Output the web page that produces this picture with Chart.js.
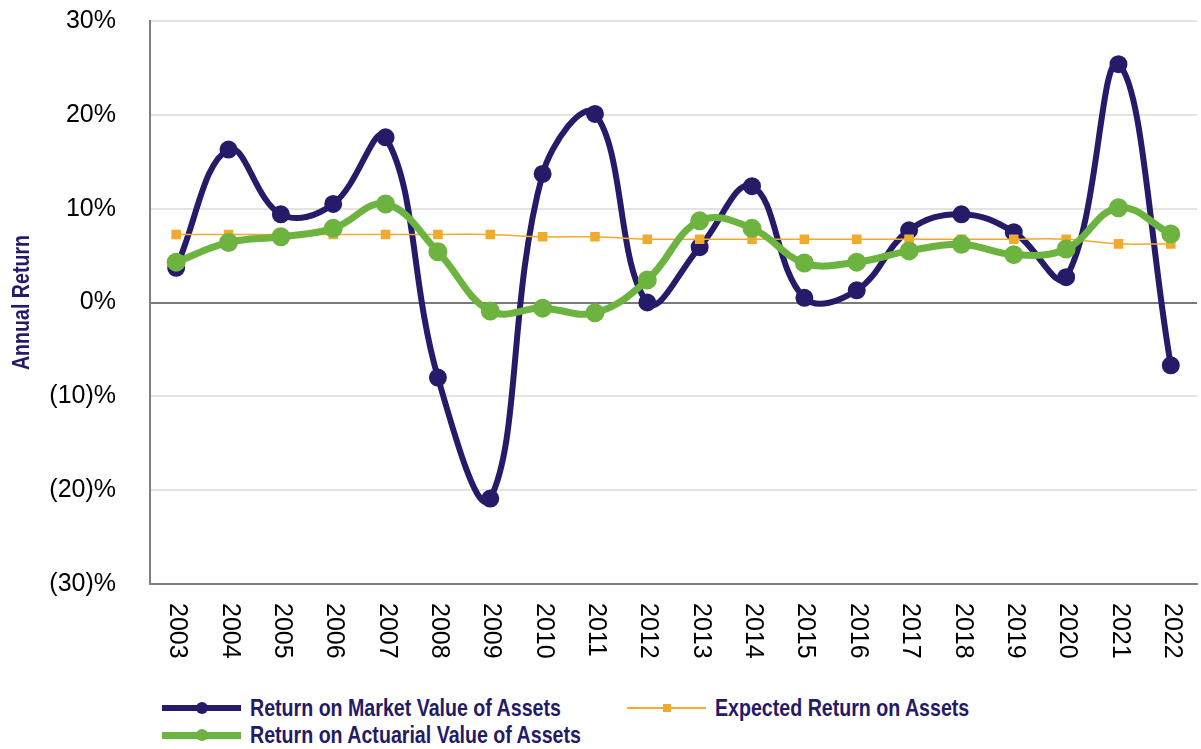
<!DOCTYPE html>
<html>
<head>
<meta charset="utf-8">
<script src="https://cdn.jsdelivr.net/npm/chart.js@4"></script>
<style>
  html, body { margin: 0; padding: 0; background: #fff; overflow: hidden; }
  #wrap { position: relative; width: 1210px; height: 749px; }
  #chart { position: absolute; left: 0; top: 0; }
  .legend-item { position: absolute; display: flex; align-items: center; height: 26px;
    font-family: 'Liberation Sans', Arial, sans-serif;
    font-weight: bold; font-size: 24px; color: #241a66; white-space: nowrap; }
  .legend-item span { display: inline-block; transform: scaleX(0.817); transform-origin: left center; }
  .legend-swatch { position: relative; width: 79px; height: 26px; margin-right: 9px; }
  .legend-swatch .ln { position: absolute; left: 0; right: 0; top: 50%; }
  .legend-swatch .mk { position: absolute; left: 50%; top: 50%; }
</style>
</head>
<body>
<div id="wrap">
  <canvas id="chart"></canvas>
</div>
<script>
const years = ["2003", "2004", "2005", "2006", "2007", "2008", "2009", "2010", "2011", "2012",
               "2013", "2014", "2015", "2016", "2017", "2018", "2019", "2020", "2021", "2022"];

const marketReturn = [3.7, 16.3, 9.4, 10.5, 17.6, -8.0, -20.9, 13.7, 20.1, 0.0,
                      5.9, 12.4, 0.5, 1.3, 7.7, 9.4, 7.5, 2.7, 25.4, -6.7];
const expectedReturn = [7.25, 7.25, 7.25, 7.25, 7.25, 7.25, 7.25, 7.0, 7.0, 6.75,
                        6.75, 6.75, 6.75, 6.75, 6.75, 6.75, 6.75, 6.75, 6.25, 6.25];
const actuarialReturn = [4.3, 6.4, 7.0, 7.9, 10.5, 5.4, -0.9, -0.6, -1.1, 2.4,
                         8.7, 7.9, 4.2, 4.3, 5.5, 6.2, 5.1, 5.7, 10.1, 7.3];

const yTicks = [-30, -20, -10, 0, 10, 20, 30];
const yTitle = "Annual Return";

const navy = "#251b69";
const green = "#6db33f";
const orange = "#f0ab2e";
const labelFont = "'Liberation Sans', Arial, sans-serif";

const W = 1210, H = 680;
const canvas = document.getElementById("chart");
canvas.width = W; canvas.height = H;
canvas.style.width = W + "px"; canvas.style.height = H + "px";

// x labels in the reference read top-to-bottom, and the axis title is a narrow bold face,
// so both are drawn here
const extraText = {
  id: "extraText",
  afterDraw(chart) {
    const xs = chart.scales.x;
    const ctx = chart.ctx;
    ctx.save();
    ctx.font = "25px " + labelFont;
    ctx.fillStyle = "#000";
    ctx.textAlign = "left";
    ctx.textBaseline = "middle";
    years.forEach((y, i) => {
      const x = xs.getPixelForTick(i) + 1;
      ctx.save();
      ctx.translate(x, chart.chartArea.bottom + 19);
      ctx.rotate(Math.PI / 2);
      ctx.fillText(y, 0, 0);
      ctx.restore();
    });

    const area = chart.chartArea;
    ctx.translate(21, (area.top + area.bottom) / 2);
    ctx.rotate(-Math.PI / 2);
    ctx.scale(0.817, 1);
    ctx.font = "bold 24px " + labelFont;
    ctx.fillStyle = "#241a66";
    ctx.textAlign = "center";
    ctx.fillText(yTitle, 0, 1);
    ctx.restore();
  }
};

const datasets = [
  {
    label: "Return on Market Value of Assets",
    data: marketReturn,
    borderColor: navy, backgroundColor: navy,
    borderWidth: 6, pointRadius: 6, pointHoverRadius: 6,
    tension: 0.4, order: 3
  },
  {
    label: "Expected Return on Assets",
    data: expectedReturn,
    borderColor: orange, backgroundColor: orange,
    borderWidth: 1.5, pointStyle: "rect", pointRadius: 5.7, pointHoverRadius: 5.7,
    tension: 0.4, order: 2
  },
  {
    label: "Return on Actuarial Value of Assets",
    data: actuarialReturn,
    borderColor: green, backgroundColor: green,
    borderWidth: 7, pointRadius: 6, pointHoverRadius: 6,
    tension: 0.4, order: 1
  }
];

new Chart(canvas, {
  type: "line",
  data: { labels: years, datasets: datasets },
  options: {
    responsive: false,
    animation: false,
    layout: { padding: { top: 21, right: 0, left: 0, bottom: 0 } },
    plugins: { legend: { display: false }, tooltip: { enabled: false } },
    scales: {
      x: {
        offset: true,
        grid: { display: false },
        border: { display: true, color: "#808080", width: 2 },
        ticks: { display: false },
        afterFit: (s) => { s.height = H - 584; }
      },
      y: {
        min: -30, max: 30,
        afterBuildTicks: (s) => { s.ticks = yTicks.map(v => ({ value: v })); },
        afterFit: (s) => { s.width = 150; s.paddingTop = 0; s.paddingBottom = 0; },
        grid: {
          drawTicks: false,
          color: (c) => c.tick && c.tick.value === 0 ? "#7a7a7a" : "#e3e3e3",
          lineWidth: 2
        },
        border: { display: true, color: "#808080", width: 2 },
        ticks: {
          padding: 34,
          color: "#000",
          font: { family: labelFont, size: 25 },
          callback: (v) => v < 0 ? "(" + (-v) + ")%" : v + "%"
        }
      }
    }
  },
  plugins: [extraText]
});

// legend laid out like the reference: two columns, wrapping to a second row
const legendSpots = [
  { left: 162, top: 695 },
  { left: 627, top: 695 },
  { left: 162, top: 722 }
];
const wrap = document.getElementById("wrap");
datasets.forEach((ds, i) => {
  const item = document.createElement("div");
  item.className = "legend-item";
  item.style.left = legendSpots[i].left + "px";
  item.style.top = legendSpots[i].top + "px";
  const sw = document.createElement("div");
  sw.className = "legend-swatch";
  const ln = document.createElement("div");
  ln.className = "ln";
  const lw = ds.borderWidth;
  ln.style.height = lw + "px";
  ln.style.marginTop = (-lw / 2) + "px";
  ln.style.background = ds.borderColor;
  const mk = document.createElement("div");
  mk.className = "mk";
  const ms = ds.pointStyle === "rect" ? 8 : 12;
  mk.style.width = ms + "px"; mk.style.height = ms + "px";
  mk.style.marginLeft = (-ms / 2) + "px"; mk.style.marginTop = (-ms / 2) + "px";
  mk.style.background = ds.borderColor;
  mk.style.borderRadius = ds.pointStyle === "rect" ? "0" : "50%";
  sw.appendChild(ln); sw.appendChild(mk);
  const tx = document.createElement("span");
  tx.textContent = ds.label;
  item.appendChild(sw); item.appendChild(tx);
  wrap.appendChild(item);
});
</script>
</body>
</html>
